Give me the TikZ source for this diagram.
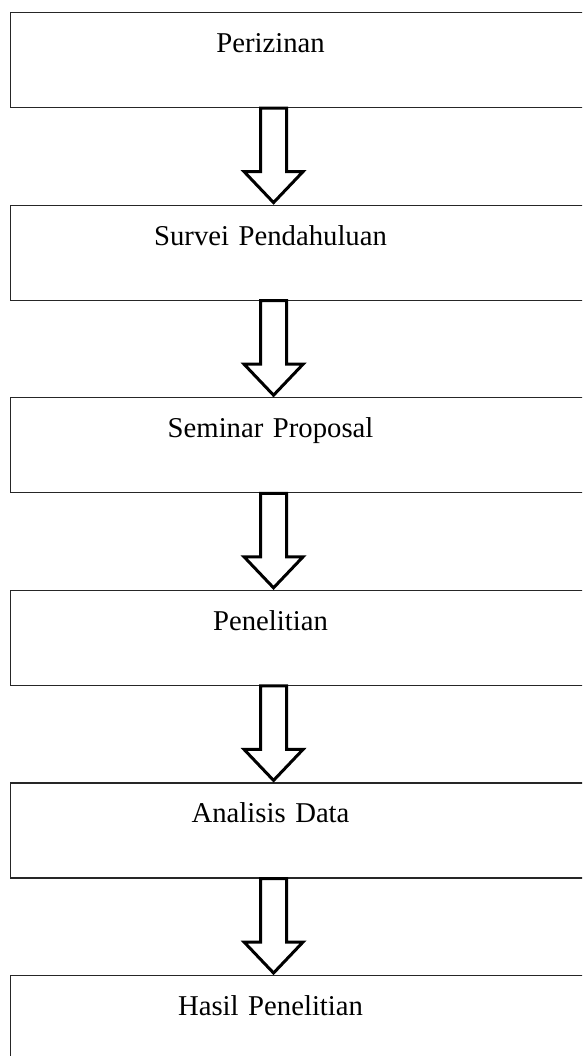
\documentclass[tikz,border=0pt]{standalone}
\usepackage{fontspec}
\setmainfont{Liberation Serif}
\usepackage{tikz}
\usetikzlibrary{positioning, calc}
\newcommand{\langkah}[1]{\makebox[521pt]{#1}}
% hollow block arrow from the bottom of one step to the top of the next
\newcommand{\panahblok}[2]{%
	\draw[panah] let \p1=([xshift=-36.5pt]#1.south), \p2=([xshift=-36.5pt]#2.north) in
		(\x1-13pt,\y1) -- (\x1-13pt,\y2+33pt) -- (\x1-29.5pt,\y2+33pt) -- (\x1,\y2+2pt)
		-- (\x1+29.5pt,\y2+33pt) -- (\x1+13pt,\y2+33pt) -- (\x1+13pt,\y1) -- cycle;}

\begin{document}
\begin{tikzpicture}[
				node distance=96.5pt,
				tahap/.style={draw=black!85, line width=1.1pt, rectangle, text width=600pt, align=left,
					inner xsep=0pt, inner ysep=0pt, text height=40pt, text depth=55pt,
					font=\fontsize{28.7}{34}\selectfont},
				panah/.style={draw=black, line width=3pt, fill=white, line join=miter}]
			
			\path[use as bounding box, clip] (0,0) rectangle (582pt,-1056pt);
			
			\node[tahap, anchor=north west] (perizinan) at (9.5pt,-12pt) {\langkah{Perizinan}};
			\node[tahap, below=of perizinan] (survei) {\langkah{Survei Pendahuluan}};
			\node[tahap, below=of survei] (seminar) {\langkah{Seminar Proposal}};
			\node[tahap, below=of seminar] (penelitian) {\langkah{Penelitian}};
			\node[tahap, below=of penelitian] (analisis) {\langkah{Analisis Data}};
			\node[tahap, below=of analisis] (hasil) {\langkah{Hasil Penelitian}};
			
			\panahblok{perizinan}{survei}
			\panahblok{survei}{seminar}
			\panahblok{seminar}{penelitian}
			\panahblok{penelitian}{analisis}
			\panahblok{analisis}{hasil}
			
		\end{tikzpicture}
\end{document}
